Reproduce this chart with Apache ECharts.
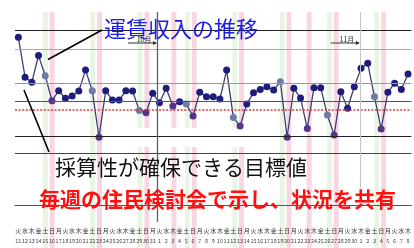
<!DOCTYPE html>
<html><head><meta charset="utf-8">
<script src="https://cdn.jsdelivr.net/npm/echarts@6/dist/echarts.min.js"></script>
<style>html,body{margin:0;padding:0;background:#fff}#c{width:414px;height:248px}</style>
</head><body><div id="c"></div>
<script>
// Days: 2011/10/11 .. 2011/12/8
const dates = ['11','12','13','14','15','16','17','18','19','20','21','22','23','24','25','26','27','28','29','30','31',
  '1','2','3','4','5','6','7','8','9','10','11','12','13','14','15','16','17','18','19','20','21','22','23','24','25','26','27','28','29','30',
  '1','2','3','4','5','6','7','8'];
const weekdays = ['火','水','木','金','土','日','月','火','水','木','金','土','日','月','火','水','木','金','土','日','月',
  '火','水','木','金','土','日','月','火','水','木','金','土','日','月','火','水','木','金','土','日','月','火','水','木','金','土','日','月','火','水',
  '木','金','土','日','月','火','水','木'];
const holidayIdx = [23, 43]; // 11/3, 11/23
const revenue = [86.9, 66.2, 63.6, 77.4, 67.0, 54.0, 59.2, 55.3, 56.5, 59.1,
  69.9, 59.2, 35.1, 59.2, 54.4, 54.4, 59.2, 59.1, 48.9, 47.8,
  57.9, 53.0, 60.5, 51.3, 53.5, 52.3, 46.1, 58.4, 56.1, 56.1,
  54.9, 69.9, 45.4, 40.9, 52.3, 58.2, 59.9, 61.3, 59.6, 63.9,
  35.1, 60.5, 55.4, 39.7, 60.8, 60.8, 46.6, 36.3, 58.7, 50.1,
  61.3, 70.8, 73.4, 56.1, 39.4, 58.4, 63.1, 59.9, 67.9];
const refLines = [90.3, 80.7, 63.1, 53.9, 35.4, 26.7];
const targetLine = 49.2;
const monthBoundaries = [21, 51];
const monthLabels = ['10月', '11月'];
const titleText = '運賃収入の推移';
const targetText = '採算性が確保できる目標値';
const noteText = '毎週の住民検討会で示し、状況を共有';

const chart = echarts.init(document.getElementById('c'), null, {renderer: 'canvas'});
const FONT = '"Noto Sans CJK JP","Noto Sans",sans-serif';

function dayKind(i) {
  if (weekdays[i] === '日' || holidayIdx.includes(i)) return 'red';
  if (weekdays[i] === '土') return 'sat';
  return 'day';
}
const bandAreas = [];
dates.forEach((d, i) => {
  const k = dayKind(i);
  if (k === 'day') return;
  bandAreas.push([{xAxis: i + 0.14, itemStyle: {color: k === 'red' ? '#f8d6e2' : '#e8f5e4'}}, {xAxis: i + 0.86}]);
});
const refStyles = [
  {color: '#222', width: 1.2}, {color: '#aaa', width: 1}, {color: '#999', width: 1},
  {color: '#555', width: 1}, {color: '#222', width: 1.2}, {color: '#444', width: 1}
];
const hLines = refLines.map((v, i) => ({yAxis: v, lineStyle: Object.assign({type: 'solid'}, refStyles[i])}));
hLines.push({yAxis: targetLine, lineStyle: {color: '#d63a3a', width: 1.6, type: [2, 1.6]}});

const pointData = revenue.map((v, i) => {
  const k = dayKind(i);
  const c = k === 'red' ? '#55358a' : (k === 'sat' ? '#6c7ca6' : '#1e1d7c');
  return {value: v, itemStyle: {color: c}};
});

chart.setOption({
  animation: false,
  grid: [
    {left: 15, width: 400.6, top: 12, height: 193},
    {left: 15, width: 400.6, top: 12, height: 236}
  ],
  xAxis: [
    {type: 'category', gridIndex: 0, data: dates, boundaryGap: true, z: 6,
     axisLine: {show: true, lineStyle: {color: '#555', width: 1.2}},
     axisTick: {show: false},
     axisLabel: {interval: 0, margin: 21, hideOverlap: false,
       formatter: (val, idx) => '{w|' + weekdays[idx] + '}\n{d|' + val + '}',
       rich: {w: {fontSize: 6, lineHeight: 10, color: '#333', fontFamily: FONT},
              d: {fontSize: 5.5, lineHeight: 10, color: '#444', fontFamily: FONT}}}},
    {type: 'value', gridIndex: 1, min: 0, max: 59, show: false}
  ],
  yAxis: [
    {type: 'value', gridIndex: 0, min: 0, max: 100, show: false},
    {type: 'value', gridIndex: 1, min: 0, max: 236, inverse: true, show: false}
  ],
  series: [
    {type: 'line', xAxisIndex: 1, yAxisIndex: 1, data: [], z: 0, silent: true,
     markArea: {silent: true, data: bandAreas}},
    {type: 'line', xAxisIndex: 0, yAxisIndex: 0, data: [], z: 1, silent: true,
     markLine: {silent: true, symbol: 'none', label: {show: false}, data: hLines}},
    {type: 'line', xAxisIndex: 1, yAxisIndex: 1, data: [], z: 3, silent: true,
     markLine: {silent: true, symbol: 'none', label: {show: false}, data: [
       [{coord: [monthBoundaries[0], 0], lineStyle: {color: '#5a5f78', width: 1.3, type: 'solid'}}, {coord: [monthBoundaries[0], 210]}],
       [{coord: [monthBoundaries[1], 0], lineStyle: {color: '#c4c4c4', width: 1, type: 'solid'}}, {coord: [monthBoundaries[1], 176]}]
     ]}},
    {type: 'line', xAxisIndex: 0, yAxisIndex: 0, data: pointData, z: 4,
     symbol: 'circle', symbolSize: 7,
     lineStyle: {color: '#3c3d72', width: 1.3},
     itemStyle: {color: '#1e1d7c'}}
  ]
});

// annotations
const gfx = [];
gfx.push({type: 'rect', z: 2, shape: {x: 107, y: 128, width: 171, height: 19}, style: {fill: '#fff'}});
monthBoundaries.forEach((b, i) => {
  const px = chart.convertToPixel({xAxisIndex: 1}, b);
  gfx.push({type: 'line', z: 5, shape: {x1: px - 29, y1: 43, x2: px - 1, y2: 43}, style: {stroke: '#333', lineWidth: 1}});
  gfx.push({type: 'polygon', z: 5, shape: {points: [[px, 43], [px - 4, 41], [px - 4, 45]]}, style: {fill: '#333'}});
  gfx.push({type: 'text', z: 5, x: px - 13, y: 39.5, style: {text: monthLabels[i], font: '7px ' + FONT, fill: '#333', align: 'center', verticalAlign: 'middle'}});
});
gfx.push({type: 'line', z: 5, shape: {x1: 48, y1: 59.5, x2: 102, y2: 30}, style: {stroke: '#000', lineWidth: 1.6}});
gfx.push({type: 'line', z: 5, shape: {x1: 24, y1: 90, x2: 49, y2: 152}, style: {stroke: '#000', lineWidth: 1.6}});
gfx.push({type: 'text', z: 6, x: 104, y: 28.5, style: {text: titleText, font: '22px ' + FONT, fill: '#1c1ce6', verticalAlign: 'middle'}});
gfx.push({type: 'text', z: 6, x: 55, y: 167.5, style: {text: targetText, font: '21px ' + FONT, fill: '#111', verticalAlign: 'middle'}});
gfx.push({type: 'text', z: 6, x: 39, y: 199, style: {text: noteText, font: 'bold 21px ' + FONT, fill: '#ff1010', verticalAlign: 'middle'}});
chart.setOption({graphic: {elements: gfx}});
</script>
</body></html>
